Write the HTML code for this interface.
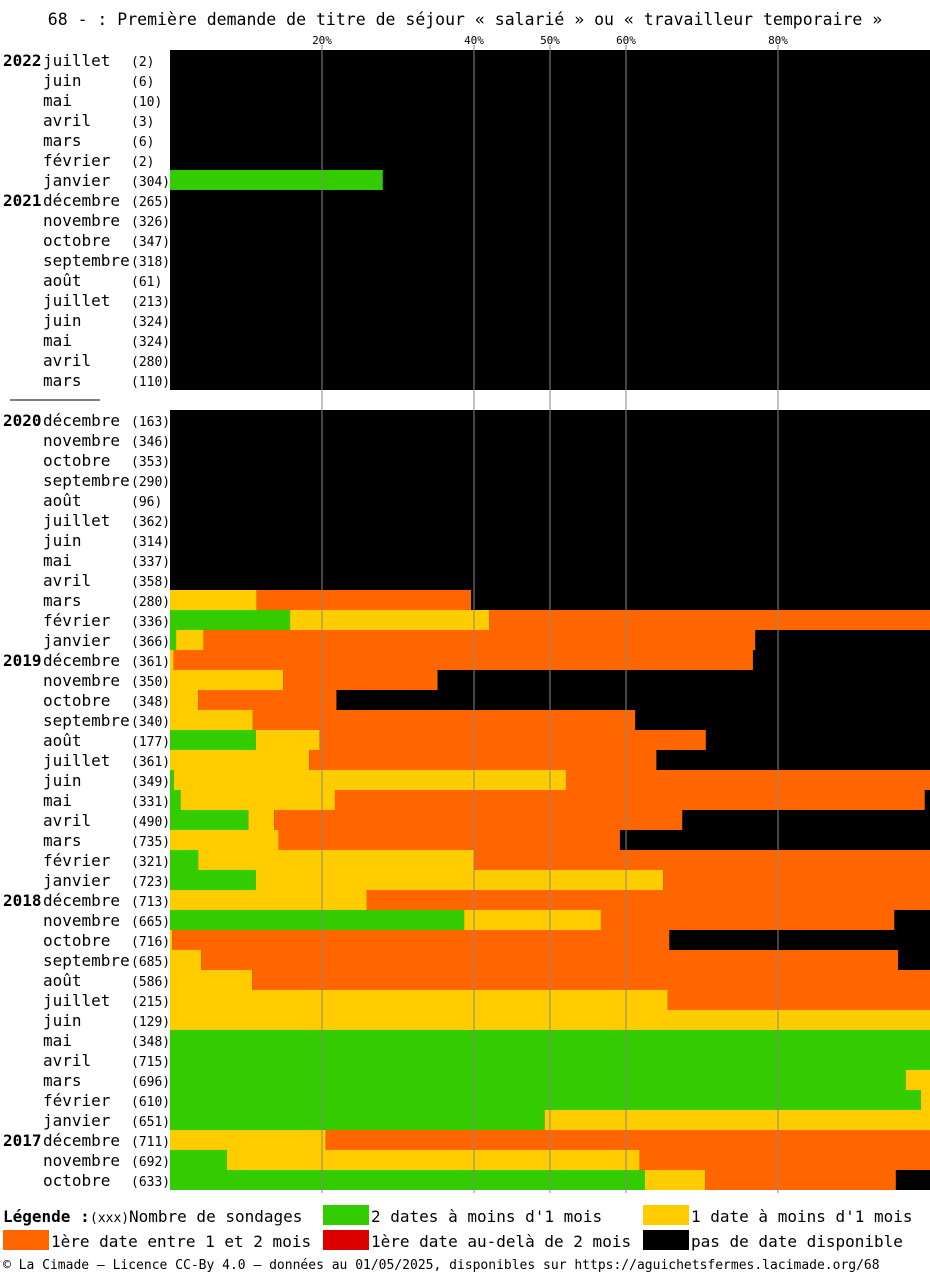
<!DOCTYPE html>
<html><head><meta charset="utf-8">
<style>
html,body{margin:0;padding:0;background:#fff;}
svg{display:block;font-family:"DejaVu Sans Mono","Liberation Mono",monospace;}
</style></head>
<body>
<svg id="chart" width="930" height="1275" viewBox="0 0 930 1275" xmlns="http://www.w3.org/2000/svg">
<text x="465" y="25" text-anchor="middle" font-size="16.5">68 - : Première demande de titre de séjour « salarié » ou « travailleur temporaire »</text>
<g id="bars"></g>
<g id="labels"></g>
<g id="grid"></g>
<line x1="10" y1="400" x2="100" y2="400" stroke="#000" stroke-width="1"/>
<g font-size="16">
<text x="3" y="1222" font-weight="bold">Légende :</text>
<text x="90" y="1222" font-size="13">(xxx)</text>
<text x="129" y="1222">Nombre de sondages</text>
<rect x="323" y="1205" width="46" height="20" fill="#33cc00"/>
<text x="371" y="1222">2 dates à moins d'1 mois</text>
<rect x="643" y="1205" width="46" height="20" fill="#ffcc00"/>
<text x="691" y="1222">1 date à moins d'1 mois</text>
<rect x="3" y="1230" width="46" height="20" fill="#ff6600"/>
<text x="51" y="1247">1ère date entre 1 et 2 mois</text>
<rect x="323" y="1230" width="46" height="20" fill="#dd0000"/>
<text x="371" y="1247">1ère date au-delà de 2 mois</text>
<rect x="643" y="1230" width="46" height="20" fill="#000"/>
<text x="691" y="1247">pas de date disponible</text>
</g>
<text x="3" y="1269" font-size="13">© La Cimade — Licence CC-By 4.0 — données au 01/05/2025, disponibles sur https://aguichetsfermes.lacimade.org/68</text>
</svg>
<script>
const months = ["juillet","juin","mai","avril","mars","février","janvier","décembre","novembre","octobre","septembre","août","juillet","juin","mai","avril","mars",
"décembre","novembre","octobre","septembre","août","juillet","juin","mai","avril","mars","février","janvier",
"décembre","novembre","octobre","septembre","août","juillet","juin","mai","avril","mars","février","janvier",
"décembre","novembre","octobre","septembre","août","juillet","juin","mai","avril","mars","février","janvier",
"décembre","novembre","octobre"];
const years = {0:"2022",7:"2021",17:"2020",29:"2019",41:"2018",53:"2017"};
const counts = [2,6,10,3,6,2,304,265,326,347,318,61,213,324,324,280,110,
163,346,353,290,96,362,314,337,358,280,336,366,
361,350,348,340,177,361,349,331,490,735,321,723,
713,665,716,685,586,215,129,348,715,696,610,651,
711,692,633];
const green = [0,0,0,0,0,0,28,0,0,0,0,0,0,0,0,0,0,
0,0,0,0,0,0,0,0,0,0,15.8,0.8,
0,0,0,0,11.3,0,0.5,1.4,10.3,0,3.7,11.3,
0,38.7,0,0,0,0,0,100,100,96.8,98.8,49.3,
0,7.5,62.5];
const yellow = [0,0,0,0,0,0,0,0,0,0,0,0,0,0,0,0,0,
0,0,0,0,0,0,0,0,0,11.4,26.2,3.6,
0.5,14.9,3.7,10.9,8.4,18.3,51.6,20.3,3.4,14.3,36.3,53.6,
25.9,18,0.3,4.1,10.8,65.5,100,0,0,3.2,1.2,50.7,
20.5,54.3,7.9];
const orange = [0,0,0,0,0,0,0,0,0,0,0,0,0,0,0,0,0,
0,0,0,0,0,0,0,0,0,28.2,58,72.6,
76.2,20.3,18.2,50.3,50.8,45.7,47.9,77.6,53.7,44.9,60,35.1,
74.1,38.6,65.4,91.7,89.2,34.5,0,0,0,0,0,0,
79.5,38.2,25.1];
const red = new Array(56).fill(0);
const ticks = [20,40,50,60,80];

const X0=170, W=760, RH=20;
const xs = p => X0 + p/100*W;
const rowY = i => 50 + i*RH + (i>=17 ? 20 : 0);
const NS="http://www.w3.org/2000/svg";
const bars=document.getElementById('bars'), labels=document.getElementById('labels'), grid=document.getElementById('grid');
function mk(tag, attrs){const e=document.createElementNS(NS,tag);for(const k in attrs)e.setAttribute(k,attrs[k]);return e;}
const cols=[["green","#33cc00",green],["yellow","#ffcc00",yellow],["orange","#ff6600",orange],["red","#dd0000",red]];
months.forEach((m,i)=>{
  const y=rowY(i);
  const bg=mk('rect',{x:X0,y:y,width:W,height:RH,fill:'#000'});
  
  
  bars.appendChild(bg);
  let acc=0;
  cols.forEach(([n,c,arr])=>{
    const v=arr[i]; if(v<=0) return;
    const r=mk('rect',{x:xs(acc),y:y,width:xs(acc+v)-xs(acc),height:RH,fill:c});
    
    
    bars.appendChild(r); acc+=v;
  });
  if(years[i]!==undefined){
    const t=mk('text',{x:3,y:y+16,'font-size':16,'font-weight':'bold'});
    
    
    t.textContent=years[i]; labels.appendChild(t);
  }
  const t=mk('text',{x:43,y:y+16,'font-size':16});
  
  
  t.textContent=m; labels.appendChild(t);
  const c=mk('text',{x:131,y:y+16,'font-size':13});
  
  
  c.textContent='('+counts[i]+')'; labels.appendChild(c);
});
ticks.forEach(p=>{
  const l=mk('line',{x1:xs(p),y1:45,x2:xs(p),y2:1193,stroke:'#888','stroke-width':1});
  
  
  grid.appendChild(l);
  const t=mk('text',{x:xs(p),y:44,'font-size':11,'text-anchor':'middle'});
  
  
  t.textContent=p+'%'; grid.appendChild(t);
});
</script>
</body></html>
